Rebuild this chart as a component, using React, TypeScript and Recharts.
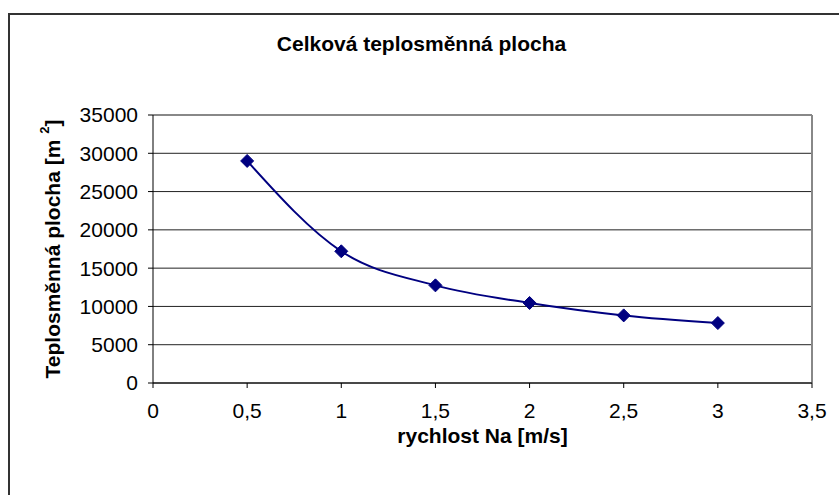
import React from 'react';
import { LineChart, Line, XAxis, YAxis, CartesianGrid, ReferenceLine } from 'recharts';

const speeds = [0.5, 1, 1.5, 2, 2.5, 3];
const areas = [29000, 17200, 12750, 10450, 8830, 7830];
const xTicks = [0, 0.5, 1, 1.5, 2, 2.5, 3, 3.5];
const yTicks = [0, 5000, 10000, 15000, 20000, 25000, 30000, 35000];

const chartTitle = 'Celková teplosměnná plocha';
const xTitle = 'rychlost Na [m/s]';

const data = speeds.map((s, i) => ({ speed: s, area: areas[i] }));

const font = '"Liberation Sans", Arial, sans-serif';

const Diamond = (props: any) => {
    const { cx, cy, index } = props;
    if (cx == null || cy == null) return null;
    const r = 6.5;
    return (
        <polygon
            key={`d-${index}`}
            points={`${cx},${cy - r} ${cx + r},${cy} ${cx},${cy + r} ${cx - r},${cy}`}
            fill="#000080"
            stroke="#000080"
        />
    );
};

const YTitle = (props: any) => {
    const vb = props.viewBox || {};
    const cy = vb.y + vb.height / 2;
    const cx = 52;
    return (
        <text
            x={cx}
            y={cy}
            transform={`rotate(-90, ${cx}, ${cy})`}
            textAnchor="middle"
            dominantBaseline="central"
            fontFamily={font}
            fontWeight="bold"
            fontSize={21}
            fill="#000"
        >
            Teplosměnná plocha [m <tspan baseline-shift="super" fontSize={13}>2</tspan>]
        </text>
    );
};

export default function App() {
    return (
        <div style={{ position: 'absolute', left: 0, top: 0, width: 839, height: 495, overflow: 'hidden', background: '#fff' }}>
            <div style={{ position: 'absolute', left: 8, top: 13, width: 900, height: 600, border: '2px solid #333' }} />
            <div style={{ position: 'absolute', left: 2, top: 32, width: 839, textAlign: 'center', fontFamily: font, fontWeight: 'bold', fontSize: 21, color: '#000' }}>
                {chartTitle}
            </div>
            <div style={{ position: 'absolute', left: 0, top: 0 }}>
                <LineChart width={839} height={495} data={data} margin={{ top: 115, right: 27, bottom: 0, left: 0 }}>
                    <CartesianGrid horizontal vertical={false} stroke="#222" strokeWidth={1} />
                    <XAxis
                        type="number"
                        dataKey="speed"
                        domain={[0, 3.5]}
                        ticks={xTicks}
                        height={112}
                        tickFormatter={(v: number) => String(v).replace('.', ',')}
                        tick={{ fill: '#000', fontSize: 21, fontFamily: font }}
                        tickSize={5}
                        tickMargin={15}
                        stroke="#000"
                        label={{ value: xTitle, position: 'insideBottom', offset: 52, fill: '#000', fontSize: 21, fontWeight: 'bold', fontFamily: font }}
                    />
                    <YAxis
                        type="number"
                        domain={[0, 35000]}
                        ticks={yTicks}
                        width={153}
                        tick={{ fill: '#000', fontSize: 21, fontFamily: font }}
                        tickSize={5}
                        tickMargin={10}
                        stroke="#000"
                        label={<YTitle />}
                    />
                    <ReferenceLine y={35000} stroke="#888" strokeWidth={2} />
                    <ReferenceLine x={3.5} stroke="#888" strokeWidth={2} />
                    <Line
                        type="monotone"
                        dataKey="area"
                        stroke="#000080"
                        strokeWidth={2}
                        dot={Diamond}
                        activeDot={false}
                        isAnimationActive={false}
                    />
                </LineChart>
            </div>
        </div>
    );
}
